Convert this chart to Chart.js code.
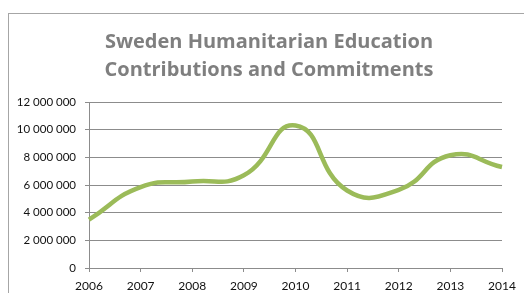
<!DOCTYPE html>
<html>
<head>
<meta charset="utf-8">
<script src="https://cdn.jsdelivr.net/npm/chart.js@4"></script>
<style>
  html, body { margin: 0; padding: 0; background: #fff; }
  #wrap { position: relative; width: 524px; height: 293px; }
  #frame { position: absolute; left: 8px; top: 13px; right: -2px; bottom: -2px;
           border-left: 1px solid #a6a6a6; border-top: 1px solid #a6a6a6; }
  canvas { position: absolute; left: 0; top: 0; }
</style>
</head>
<body>
<div id="wrap">
  <div id="frame"></div>
  <canvas id="myChart" width="524" height="293"></canvas>
</div>
<script>
const years = ['2006', '2007', '2008', '2009', '2010', '2011', '2012', '2013', '2014'];
const amounts = [3500000, 5850000, 6250000, 6700000, 10300000, 5600000, 5650000, 8150000, 7300000];
const yTicks = [0, 2000000, 4000000, 6000000, 8000000, 10000000, 12000000];
const titleLines = ['Sweden Humanitarian Education', 'Contributions and Commitments'];

const fmt = v => String(v).replace(/\B(?=(\d{3})+(?!\d))/g, ' ');

// title sits off-centre in the original, so draw it by hand
const titlePlugin = {
  id: 'twoLineTitle',
  afterDraw(chart) {
    const c = chart.ctx;
    c.save();
    c.fillStyle = '#7f7f7f';
    c.font = 'bold 20px "Open Sans"';
    c.textAlign = 'center';
    c.textBaseline = 'middle';
    titleLines.forEach((t, i) => c.fillText(t, 269, 42 + i * 28));
    c.restore();
  }
};

const ctx = document.getElementById('myChart');

new Chart(ctx, {
  type: 'line',
  data: {
    labels: years,
    datasets: [{
      label: 'Sweden',
      data: amounts,
      borderColor: '#9bbb59',
      borderWidth: 4.5,
      tension: 0.5,
      pointRadius: 0,
      fill: false
    }]
  },
  plugins: [titlePlugin],
  options: {
    responsive: false,
    animation: false,
    layout: { padding: { left: 0, right: 22, top: 102, bottom: 0 } },
    plugins: {
      legend: { display: false },
      tooltip: { enabled: false },
      title: { display: false }
    },
    scales: {
      x: {
        offset: false,
        afterFit: s => { s.height = 25; },
        grid: { drawOnChartArea: false, tickLength: 4, color: '#8c8c8c' },
        border: { color: '#8c8c8c' },
        ticks: { color: '#111', padding: 7, maxRotation: 0,
                 font: { family: 'Lato', size: 12 } }
      },
      y: {
        min: 0,
        max: 12000000,
        afterFit: s => { s.width = 89; },
        afterBuildTicks: s => { s.ticks = yTicks.map(v => ({ value: v })); },
        grid: { color: '#8c8c8c', tickLength: 4 },
        border: { color: '#8c8c8c' },
        ticks: { color: '#111', padding: 9, callback: v => fmt(v),
                 font: { family: 'Lato', size: 11.5 } }
      }
    }
  }
});
</script>
</body>
</html>
